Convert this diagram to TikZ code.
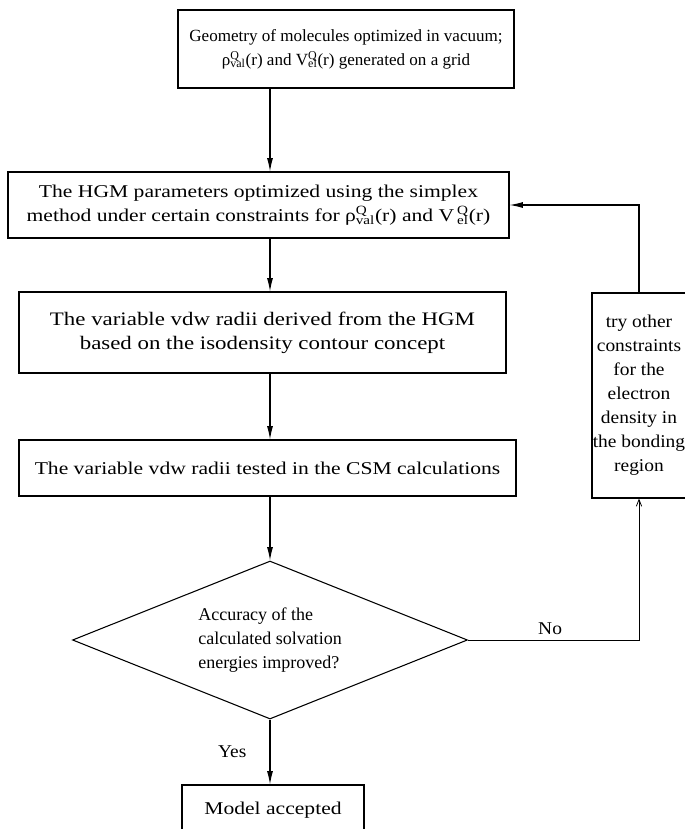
\documentclass[tikz,border=0pt]{standalone}
\usepackage{fontspec}
\setmainfont{Liberation Serif}
\newfontfamily\widefont{Liberation Serif}[FakeStretch=1.2]
\newfontfamily\midfont{Liberation Serif}[FakeStretch=1.08]
\usetikzlibrary{shapes.geometric,arrows.meta}
\newcommand{\qsub}[2]{#1\rlap{\textsuperscript{Q}}\textsubscript{#2}}
\tikzset{procbox/.style={draw,inner sep=0pt,align=center,font=\widefont\fontsize{13.5}{18}\selectfont},
  decbox/.style={draw,diamond,aspect=2.5,inner sep=0pt,align=left}}
\begin{document}
\begin{tikzpicture}[x=.75pt,y=-.75pt,font=\fontsize{13.5}{18}\selectfont,line width=.8pt,>={Latex[length=10pt,width=4.5pt]}]
  \useasboundingbox (0,0) rectangle (685,829);
  \node[procbox,minimum width=252pt,minimum height=58.5pt,font=\fontsize{12.8}{18}\selectfont] (geom) at (346,49) {Geometry of molecules optimized in vacuum;\\\qsub{ρ}{val}(r) and V\qsub{}{el}(r) generated on a grid};
  \node[procbox,minimum width=375.75pt,minimum height=49.5pt] (hgm) at (258.5,205) {The HGM parameters optimized using the simplex\\method under certain constraints for \qsub{ρ}{val}(r) and V\,\qsub{}{el}(r)};
  \node[procbox,minimum width=365.25pt,minimum height=60.75pt,font=\widefont\fontsize{14.3}{18}\selectfont] (radii) at (262.5,332.5) {The variable vdw radii derived from the HGM\\based on the isodensity contour concept};
  \node[procbox,minimum width=372.75pt,minimum height=42pt] (csm) at (267.5,468) {The variable vdw radii tested in the CSM calculations};
  \node[decbox,minimum width=296.25pt,minimum height=118.5pt] (acc) at (270,640) {Accuracy of the\\calculated solvation\\energies improved?};
  \node[procbox,minimum width=70.5pt,minimum height=153.75pt,font=\midfont\fontsize{13.5}{18}\selectfont] (other) at (639,395.5) {try other\\constraints\\for the\\electron\\density in\\the bonding\\region};
  \node[procbox,minimum width=136.5pt,minimum height=37.5pt] (model) at (273,810) {Model accepted};
  % main flow
  \draw[->] (geom.south -| acc) -- (hgm.north -| acc); \draw[->] (hgm.south -| acc) -- (radii.north -| acc);
  \draw[->] (radii.south -| acc) -- (csm.north -| acc); \draw[->] (csm.south -| acc) -- (acc.north);
  \draw[->] (acc.south) -- node[left=14pt,font=\midfont\fontsize{13.5}{18}\selectfont] {Yes} (model.north -| acc);
  % feedback loop
  \draw[-{Straight Barb[length=5pt,width=4pt]},line width=.6pt] (acc.east) -| node[pos=.24,above,font=\midfont\fontsize{13.5}{18}\selectfont] {No} (other.south);
  \draw[->] (other.north) |- (hgm.east);
\end{tikzpicture}
\end{document}
